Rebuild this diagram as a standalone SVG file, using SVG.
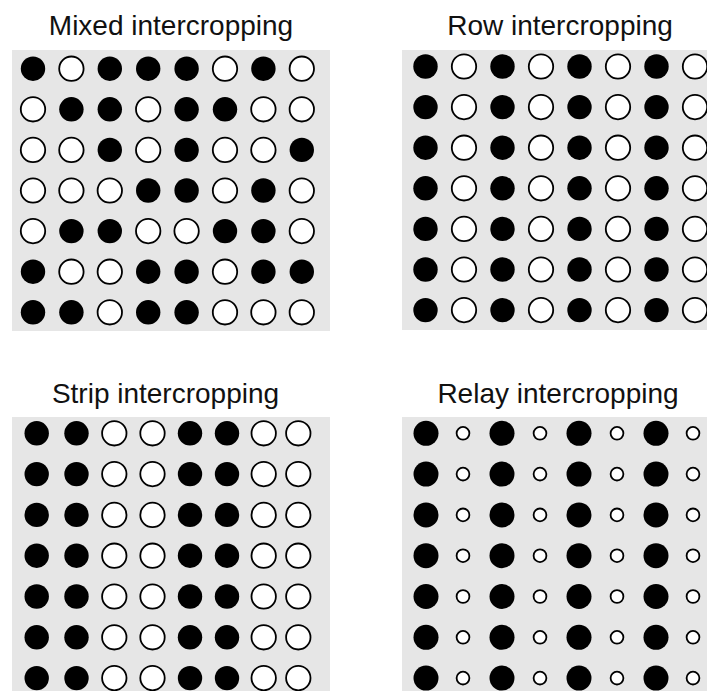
<svg xmlns="http://www.w3.org/2000/svg" width="707" height="691" viewBox="0 0 707 691">
<style>
.bg{fill:#e6e6e6}
.t{font-family:"Liberation Sans",Arial,sans-serif;font-size:28px;fill:#111;text-anchor:middle}
.b{fill:#000}
.w{fill:#fff;stroke:#000;stroke-width:1.8}
.s{fill:#fff;stroke:#000;stroke-width:1.8}
</style>
<rect width="707" height="691" fill="#fff"/>
<g id="mixed">
<text class="t" x="171" y="35">Mixed intercropping</text>
<rect class="bg" x="12" y="50" width="318" height="281"/>
<circle class="b" cx="33" cy="68.7" r="12.2"/><circle class="w" cx="71.4" cy="68.7" r="12.2"/><circle class="b" cx="109.8" cy="68.7" r="12.2"/><circle class="b" cx="148.2" cy="68.7" r="12.2"/><circle class="b" cx="186.6" cy="68.7" r="12.2"/><circle class="w" cx="225" cy="68.7" r="12.2"/><circle class="b" cx="263.4" cy="68.7" r="12.2"/><circle class="w" cx="301.8" cy="68.7" r="12.2"/>
<circle class="w" cx="33" cy="109.3" r="12.2"/><circle class="b" cx="71.4" cy="109.3" r="12.2"/><circle class="b" cx="109.8" cy="109.3" r="12.2"/><circle class="w" cx="148.2" cy="109.3" r="12.2"/><circle class="b" cx="186.6" cy="109.3" r="12.2"/><circle class="b" cx="225" cy="109.3" r="12.2"/><circle class="w" cx="263.4" cy="109.3" r="12.2"/><circle class="w" cx="301.8" cy="109.3" r="12.2"/>
<circle class="w" cx="33" cy="149.9" r="12.2"/><circle class="w" cx="71.4" cy="149.9" r="12.2"/><circle class="b" cx="109.8" cy="149.9" r="12.2"/><circle class="w" cx="148.2" cy="149.9" r="12.2"/><circle class="b" cx="186.6" cy="149.9" r="12.2"/><circle class="w" cx="225" cy="149.9" r="12.2"/><circle class="w" cx="263.4" cy="149.9" r="12.2"/><circle class="b" cx="301.8" cy="149.9" r="12.2"/>
<circle class="w" cx="33" cy="190.5" r="12.2"/><circle class="w" cx="71.4" cy="190.5" r="12.2"/><circle class="w" cx="109.8" cy="190.5" r="12.2"/><circle class="b" cx="148.2" cy="190.5" r="12.2"/><circle class="b" cx="186.6" cy="190.5" r="12.2"/><circle class="w" cx="225" cy="190.5" r="12.2"/><circle class="b" cx="263.4" cy="190.5" r="12.2"/><circle class="w" cx="301.8" cy="190.5" r="12.2"/>
<circle class="w" cx="33" cy="231.1" r="12.2"/><circle class="b" cx="71.4" cy="231.1" r="12.2"/><circle class="b" cx="109.8" cy="231.1" r="12.2"/><circle class="w" cx="148.2" cy="231.1" r="12.2"/><circle class="w" cx="186.6" cy="231.1" r="12.2"/><circle class="b" cx="225" cy="231.1" r="12.2"/><circle class="b" cx="263.4" cy="231.1" r="12.2"/><circle class="w" cx="301.8" cy="231.1" r="12.2"/>
<circle class="b" cx="33" cy="271.7" r="12.2"/><circle class="w" cx="71.4" cy="271.7" r="12.2"/><circle class="w" cx="109.8" cy="271.7" r="12.2"/><circle class="b" cx="148.2" cy="271.7" r="12.2"/><circle class="b" cx="186.6" cy="271.7" r="12.2"/><circle class="w" cx="225" cy="271.7" r="12.2"/><circle class="b" cx="263.4" cy="271.7" r="12.2"/><circle class="b" cx="301.8" cy="271.7" r="12.2"/>
<circle class="b" cx="33" cy="312.3" r="12.2"/><circle class="b" cx="71.4" cy="312.3" r="12.2"/><circle class="w" cx="109.8" cy="312.3" r="12.2"/><circle class="b" cx="148.2" cy="312.3" r="12.2"/><circle class="b" cx="186.6" cy="312.3" r="12.2"/><circle class="w" cx="225" cy="312.3" r="12.2"/><circle class="w" cx="263.4" cy="312.3" r="12.2"/><circle class="w" cx="301.8" cy="312.3" r="12.2"/>
</g>
<g id="row">
<text class="t" x="560" y="35">Row intercropping</text>
<rect class="bg" x="402" y="50" width="305" height="280"/>
<g id="row-r1"><circle class="b" cx="425.5" cy="66.5" r="12.2"/><circle class="w" cx="464" cy="66.5" r="12.2"/><circle class="b" cx="502.5" cy="66.5" r="12.2"/><circle class="w" cx="541" cy="66.5" r="12.2"/><circle class="b" cx="579.5" cy="66.5" r="12.2"/><circle class="w" cx="618" cy="66.5" r="12.2"/><circle class="b" cx="656.5" cy="66.5" r="12.2"/><circle class="w" cx="695" cy="66.5" r="12.2"/></g>
<g id="row-r2"><circle class="b" cx="425.5" cy="107.1" r="12.2"/><circle class="w" cx="464" cy="107.1" r="12.2"/><circle class="b" cx="502.5" cy="107.1" r="12.2"/><circle class="w" cx="541" cy="107.1" r="12.2"/><circle class="b" cx="579.5" cy="107.1" r="12.2"/><circle class="w" cx="618" cy="107.1" r="12.2"/><circle class="b" cx="656.5" cy="107.1" r="12.2"/><circle class="w" cx="695" cy="107.1" r="12.2"/></g>
<g id="row-r3"><circle class="b" cx="425.5" cy="147.7" r="12.2"/><circle class="w" cx="464" cy="147.7" r="12.2"/><circle class="b" cx="502.5" cy="147.7" r="12.2"/><circle class="w" cx="541" cy="147.7" r="12.2"/><circle class="b" cx="579.5" cy="147.7" r="12.2"/><circle class="w" cx="618" cy="147.7" r="12.2"/><circle class="b" cx="656.5" cy="147.7" r="12.2"/><circle class="w" cx="695" cy="147.7" r="12.2"/></g>
<g id="row-r4"><circle class="b" cx="425.5" cy="188.3" r="12.2"/><circle class="w" cx="464" cy="188.3" r="12.2"/><circle class="b" cx="502.5" cy="188.3" r="12.2"/><circle class="w" cx="541" cy="188.3" r="12.2"/><circle class="b" cx="579.5" cy="188.3" r="12.2"/><circle class="w" cx="618" cy="188.3" r="12.2"/><circle class="b" cx="656.5" cy="188.3" r="12.2"/><circle class="w" cx="695" cy="188.3" r="12.2"/></g>
<g id="row-r5"><circle class="b" cx="425.5" cy="228.9" r="12.2"/><circle class="w" cx="464" cy="228.9" r="12.2"/><circle class="b" cx="502.5" cy="228.9" r="12.2"/><circle class="w" cx="541" cy="228.9" r="12.2"/><circle class="b" cx="579.5" cy="228.9" r="12.2"/><circle class="w" cx="618" cy="228.9" r="12.2"/><circle class="b" cx="656.5" cy="228.9" r="12.2"/><circle class="w" cx="695" cy="228.9" r="12.2"/></g>
<g id="row-r6"><circle class="b" cx="425.5" cy="269.5" r="12.2"/><circle class="w" cx="464" cy="269.5" r="12.2"/><circle class="b" cx="502.5" cy="269.5" r="12.2"/><circle class="w" cx="541" cy="269.5" r="12.2"/><circle class="b" cx="579.5" cy="269.5" r="12.2"/><circle class="w" cx="618" cy="269.5" r="12.2"/><circle class="b" cx="656.5" cy="269.5" r="12.2"/><circle class="w" cx="695" cy="269.5" r="12.2"/></g>
<g id="row-r7"><circle class="b" cx="425.5" cy="310.1" r="12.2"/><circle class="w" cx="464" cy="310.1" r="12.2"/><circle class="b" cx="502.5" cy="310.1" r="12.2"/><circle class="w" cx="541" cy="310.1" r="12.2"/><circle class="b" cx="579.5" cy="310.1" r="12.2"/><circle class="w" cx="618" cy="310.1" r="12.2"/><circle class="b" cx="656.5" cy="310.1" r="12.2"/><circle class="w" cx="695" cy="310.1" r="12.2"/></g>
</g>
<g id="strip">
<text class="t" x="165.5" y="403">Strip intercropping</text>
<rect class="bg" x="12" y="417" width="318" height="274"/>
<g id="strip-r1"><circle class="b" cx="36.7" cy="433.3" r="12.2"/><circle class="b" cx="76.5" cy="433.3" r="12.2"/><circle class="w" cx="114.3" cy="433.3" r="12.2"/><circle class="w" cx="152.5" cy="433.3" r="12.2"/><circle class="b" cx="190" cy="433.3" r="12.2"/><circle class="b" cx="227" cy="433.3" r="12.2"/><circle class="w" cx="263.7" cy="433.3" r="12.2"/><circle class="w" cx="298.3" cy="433.3" r="12.2"/></g>
<g id="strip-r2"><circle class="b" cx="36.7" cy="474.1" r="12.2"/><circle class="b" cx="76.5" cy="474.1" r="12.2"/><circle class="w" cx="114.3" cy="474.1" r="12.2"/><circle class="w" cx="152.5" cy="474.1" r="12.2"/><circle class="b" cx="190" cy="474.1" r="12.2"/><circle class="b" cx="227" cy="474.1" r="12.2"/><circle class="w" cx="263.7" cy="474.1" r="12.2"/><circle class="w" cx="298.3" cy="474.1" r="12.2"/></g>
<g id="strip-r3"><circle class="b" cx="36.7" cy="514.9" r="12.2"/><circle class="b" cx="76.5" cy="514.9" r="12.2"/><circle class="w" cx="114.3" cy="514.9" r="12.2"/><circle class="w" cx="152.5" cy="514.9" r="12.2"/><circle class="b" cx="190" cy="514.9" r="12.2"/><circle class="b" cx="227" cy="514.9" r="12.2"/><circle class="w" cx="263.7" cy="514.9" r="12.2"/><circle class="w" cx="298.3" cy="514.9" r="12.2"/></g>
<g id="strip-r4"><circle class="b" cx="36.7" cy="555.7" r="12.2"/><circle class="b" cx="76.5" cy="555.7" r="12.2"/><circle class="w" cx="114.3" cy="555.7" r="12.2"/><circle class="w" cx="152.5" cy="555.7" r="12.2"/><circle class="b" cx="190" cy="555.7" r="12.2"/><circle class="b" cx="227" cy="555.7" r="12.2"/><circle class="w" cx="263.7" cy="555.7" r="12.2"/><circle class="w" cx="298.3" cy="555.7" r="12.2"/></g>
<g id="strip-r5"><circle class="b" cx="36.7" cy="596.5" r="12.2"/><circle class="b" cx="76.5" cy="596.5" r="12.2"/><circle class="w" cx="114.3" cy="596.5" r="12.2"/><circle class="w" cx="152.5" cy="596.5" r="12.2"/><circle class="b" cx="190" cy="596.5" r="12.2"/><circle class="b" cx="227" cy="596.5" r="12.2"/><circle class="w" cx="263.7" cy="596.5" r="12.2"/><circle class="w" cx="298.3" cy="596.5" r="12.2"/></g>
<g id="strip-r6"><circle class="b" cx="36.7" cy="637.3" r="12.2"/><circle class="b" cx="76.5" cy="637.3" r="12.2"/><circle class="w" cx="114.3" cy="637.3" r="12.2"/><circle class="w" cx="152.5" cy="637.3" r="12.2"/><circle class="b" cx="190" cy="637.3" r="12.2"/><circle class="b" cx="227" cy="637.3" r="12.2"/><circle class="w" cx="263.7" cy="637.3" r="12.2"/><circle class="w" cx="298.3" cy="637.3" r="12.2"/></g>
<g id="strip-r7"><circle class="b" cx="36.7" cy="678.1" r="12.2"/><circle class="b" cx="76.5" cy="678.1" r="12.2"/><circle class="w" cx="114.3" cy="678.1" r="12.2"/><circle class="w" cx="152.5" cy="678.1" r="12.2"/><circle class="b" cx="190" cy="678.1" r="12.2"/><circle class="b" cx="227" cy="678.1" r="12.2"/><circle class="w" cx="263.7" cy="678.1" r="12.2"/><circle class="w" cx="298.3" cy="678.1" r="12.2"/></g>
</g>
<g id="relay">
<text class="t" x="558" y="403">Relay intercropping</text>
<rect class="bg" x="402" y="417" width="305" height="274"/>
<g id="relay-r1"><circle class="b" cx="426" cy="433.3" r="12.5"/><circle class="s" cx="463" cy="433.3" r="6.4"/><circle class="b" cx="502" cy="433.3" r="12.5"/><circle class="s" cx="540" cy="433.3" r="6.4"/><circle class="b" cx="579" cy="433.3" r="12.5"/><circle class="s" cx="617" cy="433.3" r="6.4"/><circle class="b" cx="656" cy="433.3" r="12.5"/><circle class="s" cx="693" cy="433.3" r="6.4"/></g>
<g id="relay-r2"><circle class="b" cx="426" cy="474.1" r="12.5"/><circle class="s" cx="463" cy="474.1" r="6.4"/><circle class="b" cx="502" cy="474.1" r="12.5"/><circle class="s" cx="540" cy="474.1" r="6.4"/><circle class="b" cx="579" cy="474.1" r="12.5"/><circle class="s" cx="617" cy="474.1" r="6.4"/><circle class="b" cx="656" cy="474.1" r="12.5"/><circle class="s" cx="693" cy="474.1" r="6.4"/></g>
<g id="relay-r3"><circle class="b" cx="426" cy="514.9" r="12.5"/><circle class="s" cx="463" cy="514.9" r="6.4"/><circle class="b" cx="502" cy="514.9" r="12.5"/><circle class="s" cx="540" cy="514.9" r="6.4"/><circle class="b" cx="579" cy="514.9" r="12.5"/><circle class="s" cx="617" cy="514.9" r="6.4"/><circle class="b" cx="656" cy="514.9" r="12.5"/><circle class="s" cx="693" cy="514.9" r="6.4"/></g>
<g id="relay-r4"><circle class="b" cx="426" cy="555.7" r="12.5"/><circle class="s" cx="463" cy="555.7" r="6.4"/><circle class="b" cx="502" cy="555.7" r="12.5"/><circle class="s" cx="540" cy="555.7" r="6.4"/><circle class="b" cx="579" cy="555.7" r="12.5"/><circle class="s" cx="617" cy="555.7" r="6.4"/><circle class="b" cx="656" cy="555.7" r="12.5"/><circle class="s" cx="693" cy="555.7" r="6.4"/></g>
<g id="relay-r5"><circle class="b" cx="426" cy="596.5" r="12.5"/><circle class="s" cx="463" cy="596.5" r="6.4"/><circle class="b" cx="502" cy="596.5" r="12.5"/><circle class="s" cx="540" cy="596.5" r="6.4"/><circle class="b" cx="579" cy="596.5" r="12.5"/><circle class="s" cx="617" cy="596.5" r="6.4"/><circle class="b" cx="656" cy="596.5" r="12.5"/><circle class="s" cx="693" cy="596.5" r="6.4"/></g>
<g id="relay-r6"><circle class="b" cx="426" cy="637.3" r="12.5"/><circle class="s" cx="463" cy="637.3" r="6.4"/><circle class="b" cx="502" cy="637.3" r="12.5"/><circle class="s" cx="540" cy="637.3" r="6.4"/><circle class="b" cx="579" cy="637.3" r="12.5"/><circle class="s" cx="617" cy="637.3" r="6.4"/><circle class="b" cx="656" cy="637.3" r="12.5"/><circle class="s" cx="693" cy="637.3" r="6.4"/></g>
<g id="relay-r7"><circle class="b" cx="426" cy="678.1" r="12.5"/><circle class="s" cx="463" cy="678.1" r="6.4"/><circle class="b" cx="502" cy="678.1" r="12.5"/><circle class="s" cx="540" cy="678.1" r="6.4"/><circle class="b" cx="579" cy="678.1" r="12.5"/><circle class="s" cx="617" cy="678.1" r="6.4"/><circle class="b" cx="656" cy="678.1" r="12.5"/><circle class="s" cx="693" cy="678.1" r="6.4"/></g>
</g>
</svg>
